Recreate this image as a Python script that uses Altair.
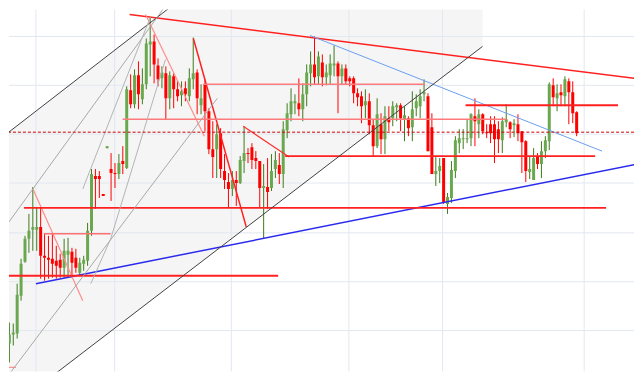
import altair as alt
import pandas as pd

# ---- candles (index, open/high/low/close in price units) ----
opens = [27,46,36,45,46,84,118,141,150,150,
         153,124,122,121,119,120,112,125,128,122,
         107,116,119,149,204,204,186,232,211,207,
         206,219,212,290,276,305,281,296,336,339,
         315,302,307,282,304,291,285,292,284,301,
         308,275,296,269,231,231,247,209,198,191,
         200,197,219,227,233,222,219,192,193,192,
         211,215,206,250,266,277,277,271,286,307,
         316,304,318,303,305,315,317,304,312,302,
         302,287,284,275,279,255,234,256,241,262,
         262,273,275,261,262,253,272,274,286,284,
         253,206,209,222,176,182,209,237,241,241,
         242,264,256,266,248,256,256,251,240,258,
         258,255,256,249,239,208,200,223,216,229,
         239,295,282,288,284,299,288,268]
closes = [41,40,45,47,85,116,141,149,153,153,
          124,122,120,116,114,112,129,129,117,112,
          117,120,149,206,201,201,184,234,207,206,
          217,216,291,276,305,286,296,337,339,316,
          301,308,282,305,291,284,289,286,302,307,
          282,282,269,231,223,246,211,200,191,200,
          197,220,227,226,220,219,192,194,188,209,
          220,206,251,267,279,279,271,286,308,316,
          303,324,303,308,317,317,304,312,299,299,
          287,283,274,279,255,234,266,241,264,258,
          274,275,262,265,252,271,279,284,288,229,
          206,209,214,177,183,210,240,242,242,242,
          266,259,266,249,247,247,241,241,259,261,
          251,257,247,238,209,211,222,216,229,240,
          296,283,287,285,301,288,267,247]
highs = [52,66,57,56,96,121,144,166,193,172,
         172,146,144,147,134,126,141,142,132,131,
         122,124,157,211,211,209,186,234,227,217,
         226,234,294,306,311,319,312,342,364,346,
         322,314,314,309,307,299,299,299,312,343,
         311,296,301,272,259,256,252,226,207,209,
         209,224,254,232,237,229,219,216,222,226,
         229,227,259,277,292,286,302,297,316,329,
         344,329,326,316,326,335,319,316,316,304,
         304,292,289,291,287,261,282,267,274,274,
         279,277,277,274,264,289,286,291,301,287,
         267,223,222,222,187,219,244,251,251,261,
         267,282,271,267,256,264,264,259,263,276,
         259,261,266,249,240,224,232,227,239,244,
         298,302,296,296,304,302,299,269]
lows = [14,34,17,34,41,79,117,127,129,129,
        101,99,101,102,101,102,102,102,102,107,
        104,109,114,144,171,182,184,232,179,192,
        201,206,211,272,272,271,276,291,304,297,
        294,292,261,271,272,279,274,279,279,291,
        266,266,249,226,202,202,202,191,172,184,
        174,196,207,217,211,211,172,141,171,189,
        202,196,192,242,259,266,264,259,274,294,
        296,296,294,295,296,304,267,296,296,294,
        277,274,257,262,246,224,232,226,226,249,
        254,259,249,239,244,239,264,262,279,229,
        206,194,197,176,166,177,202,227,231,237,
        234,234,242,246,242,237,217,227,227,253,
        242,243,239,207,198,201,200,211,202,222,
        230,274,269,274,274,256,257,244]

last_price = 248

# ---- grid positions ----
grid_x = [8.79, 28.92, 58.73, 88.79, 112.74, 148.92]
grid_y = [49, 98, 147, 197, 246, 295, 344]

# ---- drawn trend / level lines: start index, start price, end index, end price ----
line_x1 = [32.74, 78.85, 8.79, 36.82, 49.04, 8.03, 61.78,
           5.73, 0.0, 10.83, 72.48, 30.96, 118.6, 51.59, 0.0,
           -0.13, 11.85, -0.13, 1.15, 20.76, 22.80, 27.90]
line_y1 = [366, 345, 96, 366, 342, 191, 254,
           172, 104, 146, 224, 261, 275, 296, 12,
           242, 0, 147, 1, 191, 96, 141]
line_x2 = [163.69, 153.5, 163.69, 51.85, 62.55, 20.76, 73.5,
           154.52, 70.7, 27.9, 151.72, 129.04, 157.58, 108.15, 3.69,
           44.97, 122.93, 42.68, 55.16, 38.09, 27.90, 41.91]
line_y2 = [301, 229, 217, 244, 153, 79, 223,
           172, 104, 146, 224, 261, 275, 296, 12,
           379, 334, 379, 282, 364, 141, 321]
line_color = ["#ff2020", "#6a9ff0", "#2a2aee", "#ff8c8c", "#ff2020", "#ff8c8c", "#ff3030",
              "#ff2020", "#ff2020", "#ff7070", "#ff2020", "#ff7a7a", "#ff2020", "#ff7a7a", "#ff9090",
              "#404040", "#404040", "#a8a8a8", "#a8a8a8", "#b4b4b4", "#b4b4b4", "#b4b4b4"]
line_width = [1.5, 1.0, 1.5, 1.2, 1.5, 1.2, 1.2,
              1.8, 1.8, 1.5, 1.8, 1.5, 1.8, 1.5, 1.2,
              1.0, 1.0, 1.0, 1.0, 1.0, 1.0, 1.0]

# ---- shaded channel ----
chan_x = [-1.0, 122.93]
chan_lo = [-38.6, 334]
chan_hi = [239.4, 615.8]

df = pd.DataFrame({"i": list(range(len(opens))), "open": opens, "high": highs,
                   "low": lows, "close": closes})
lines = pd.DataFrame({"x": line_x1, "y": line_y1, "x2": line_x2, "y2": line_y2,
                      "c": line_color, "w": line_width})
chan = pd.DataFrame({"x": chan_x, "lo": chan_lo, "hi": chan_hi})

xs = alt.Scale(domain=[1.911, 161.66], nice=False, zero=False)
ys = alt.Scale(domain=[8, 371], nice=False, zero=False)

shade = alt.Chart(chan).mark_area(color="#f5f5f5", clip=True).encode(
    x=alt.X("x:Q", scale=xs, axis=None),
    y=alt.Y("lo:Q", scale=ys, axis=None),
    y2="hi:Q",
)

gx = alt.Chart(pd.DataFrame({"g": grid_x})).mark_rule(color="#e1e8f0", strokeWidth=1).encode(
    x=alt.X("g:Q", scale=xs, axis=None))
gy = alt.Chart(pd.DataFrame({"g": grid_y})).mark_rule(color="#e1e8f0", strokeWidth=1).encode(
    y=alt.Y("g:Q", scale=ys, axis=None))

up = "datum.close >= datum.open"
wick = alt.Chart(df).mark_rule(strokeWidth=1, clip=True).encode(
    x=alt.X("i:Q", scale=xs, axis=None),
    y=alt.Y("low:Q", scale=ys, axis=None),
    y2="high:Q",
    color=alt.condition(up, alt.value("#3d7a1c"), alt.value("#ff0000")),
)
body = alt.Chart(df).mark_rule(strokeWidth=3, clip=True).encode(
    x=alt.X("i:Q", scale=xs, axis=None),
    y=alt.Y("open:Q", scale=ys, axis=None),
    y2="close:Q",
    color=alt.condition(up, alt.value("#6aa84f"), alt.value("#ff0000")),
)

segs = alt.Chart(lines).mark_rule(clip=True).encode(
    x=alt.X("x:Q", scale=xs, axis=None),
    y=alt.Y("y:Q", scale=ys, axis=None),
    x2="x2:Q",
    y2="y2:Q",
    color=alt.Color("c:N", scale=None),
    strokeWidth=alt.StrokeWidth("w:Q", scale=None),
)

price = alt.Chart(pd.DataFrame({"p": [last_price]})).mark_rule(
    color="#cc0000", strokeWidth=1, strokeDash=[3, 2]).encode(
    y=alt.Y("p:Q", scale=ys, axis=None))

chart = alt.layer(shade, gx, gy, wick, body, segs, price).properties(
    width=627, height=363, padding=0, background="white"
).configure_view(strokeWidth=0)

chart.save("out.html", embed_options={"renderer": "svg", "actions": False})
